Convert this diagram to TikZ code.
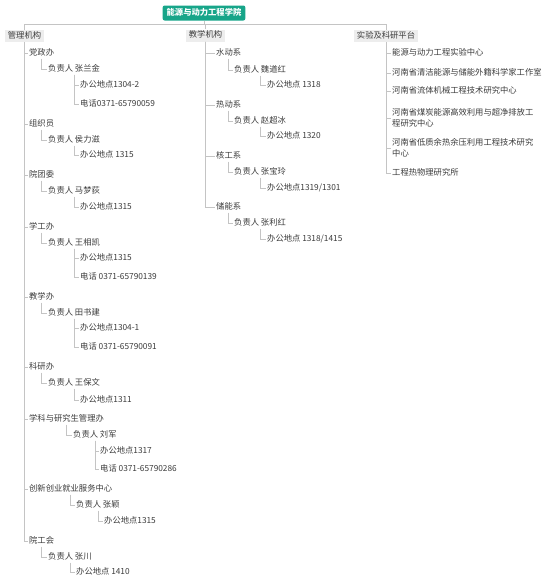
\documentclass[tikz,border=0pt]{standalone}
\usepackage{fontspec}
\setmainfont{Noto Sans CJK SC}
\definecolor{txt}{HTML}{3C3C3C}
\definecolor{lin}{HTML}{C4C4C4}
\definecolor{grpbg}{HTML}{EDEDED}
\definecolor{rootbg}{HTML}{17A589}
\tikzset{
  t/.style={anchor=west, inner xsep=1pt, inner ysep=1.5pt, text=txt,
    font=\fontsize{8.3}{10}\selectfont, text height=6.3pt, text depth=1.7pt},
  tm/.style={anchor=west, inner xsep=1pt, inner ysep=1.5pt, text=txt,
    font=\fontsize{8.3}{11.5}\selectfont, align=left},
  grp/.style={fill=grpbg, text=txt, inner xsep=2.5pt, inner ysep=2pt,
    font=\fontsize{8.3}{10}\selectfont, text height=6.3pt, text depth=1.7pt},
  rootbox/.style={fill=rootbg, text=white, rounded corners=2pt, inner xsep=4pt, inner ysep=3.5pt,
    font=\fontsize{8.3}{10}\selectfont\bfseries, text height=6.3pt, text depth=1.7pt},
  c/.style={draw=lin, line width=0.7pt}
}
\begin{document}
\begin{tikzpicture}[x=1pt,y=-1pt]
\useasboundingbox (0,0) rectangle (550,584);
\fill[white] (0,0) rectangle (550,584);
% root and groups
\node[rootbox] (root) at (204,13) {能源与动力工程学院};
\coordinate (bus) at (0,24);
\node[grp] (g1) at (24.5,36) {管理机构};
\node[grp] (g2) at (205.5,35.5) {教学机构};
\node[grp] (g3) at (386,36) {实验及科研平台};
\draw[c] (root.south) -- (root.south |- bus);
\draw[c] (g1.north) -- (g1.north |- bus) -- (g3.north |- bus) -- (g3.north);
\draw[c] (g2.north) -- (g2.north |- bus);
% 管理机构
\node[t] (a1) at (28,53) {党政办};
\node[t] (a1r) at (47,69) {负责人 张兰金};
\node[t] (a1a) at (79,85) {办公地点1304-2};
\node[t] (a1b) at (79,104) {电话0371-65790059};
\node[t] (a2) at (28,124) {组织员};
\node[t] (a2r) at (47,140) {负责人 侯力滋};
\node[t] (a2a) at (79,155) {办公地点 1315};
\node[t] (a3) at (28,175) {院团委};
\node[t] (a3r) at (47,191) {负责人 马梦荻};
\node[t] (a3a) at (79,207) {办公地点1315};
\node[t] (a4) at (28,227) {学工办};
\node[t] (a4r) at (47,243) {负责人 王相凯};
\node[t] (a4a) at (79,258) {办公地点1315};
\node[t] (a4b) at (79,277) {电话 0371-65790139};
\node[t] (a5) at (28,297) {教学办};
\node[t] (a5r) at (47,313) {负责人 田书建};
\node[t] (a5a) at (79,328) {办公地点1304-1};
\node[t] (a5b) at (79,347) {电话 0371-65790091};
\node[t] (a6) at (28,367) {科研办};
\node[t] (a6r) at (47,383) {负责人 王保文};
\node[t] (a6a) at (79,400) {办公地点1311};
\node[t] (a7) at (28,419) {学科与研究生管理办};
\node[t] (a7r) at (72,435) {负责人 刘军};
\node[t] (a7a) at (99,451) {办公地点1317};
\node[t] (a7b) at (99,469) {电话 0371-65790286};
\node[t] (a8) at (28,489) {创新创业就业服务中心};
\node[t] (a8r) at (75,505) {负责人 张颖};
\node[t] (a8a) at (103,521) {办公地点1315};
\node[t] (a9) at (28,541) {院工会};
\node[t] (a9r) at (47,557) {负责人 张川};
\node[t] (a9a) at (75,572) {办公地点 1410};
\foreach \p/\ch in {g1/a1,g1/a2,g1/a3,g1/a4,g1/a5,g1/a6,g1/a7,g1/a8,g1/a9,
  a1/a1r,a1r/a1a,a1r/a1b,a2/a2r,a2r/a2a,a3/a3r,a3r/a3a,a4/a4r,a4r/a4a,a4r/a4b,
  a5/a5r,a5r/a5a,a5r/a5b,a6/a6r,a6r/a6a,a7/a7r,a7r/a7a,a7r/a7b,a8/a8r,a8r/a8a,a9/a9r,a9r/a9a}
  \draw[c] (\p.south) |- (\ch.west);
% 教学机构
\node[t] (b1) at (215,53) {水动系};
\node[t] (b1r) at (233,70) {负责人 魏道红};
\node[t] (b1a) at (266,85) {办公地点 1318};
\node[t] (b2) at (215,105) {热动系};
\node[t] (b2r) at (233,121) {负责人 赵超冰};
\node[t] (b2a) at (266,136) {办公地点 1320};
\node[t] (b3) at (215,156) {核工系};
\node[t] (b3r) at (233,172) {负责人 张宝玲};
\node[t] (b3a) at (266,188) {办公地点1319/1301};
\node[t] (b4) at (215,207) {储能系};
\node[t] (b4r) at (233,223) {负责人 张利红};
\node[t] (b4a) at (266,239) {办公地点 1318/1415};
\foreach \p/\ch in {g2/b1,g2/b2,g2/b3,g2/b4,b1/b1r,b1r/b1a,b2/b2r,b2r/b2a,b3/b3r,b3r/b3a,b4/b4r,b4r/b4a}
  \draw[c] (\p.south) |- (\ch.west);
% 实验及科研平台
\node[t] (c1) at (391,53) {能源与动力工程实验中心};
\node[t] (c2) at (391,73) {河南省清洁能源与储能外籍科学家工作室};
\node[t] (c3) at (391,91) {河南省流体机械工程技术研究中心};
\node[tm] (c4) at (391,118) {河南省煤炭能源高效利用与超净排放工\\程研究中心};
\node[tm] (c5) at (391,148) {河南省低质余热余压利用工程技术研究\\中心};
\node[t] (c6) at (391,173) {工程热物理研究所};
\foreach \ch in {c1,c2,c3,c4,c5,c6}
  \draw[c] (g3.south) |- (\ch.west);
\end{tikzpicture}
\end{document}
